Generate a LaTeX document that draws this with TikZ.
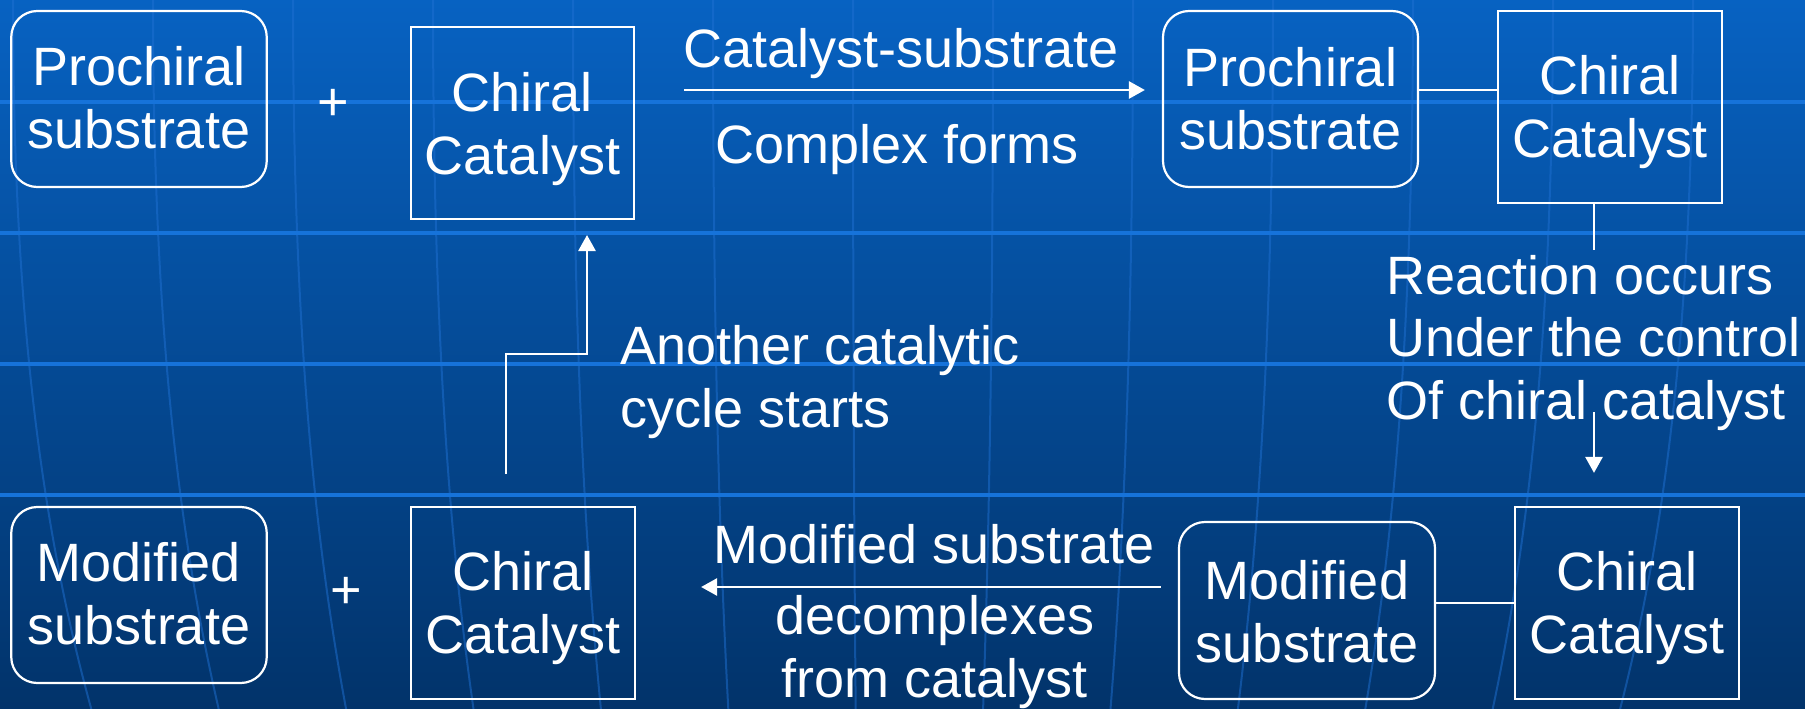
\documentclass[tikz,border=0pt]{standalone}
\usepackage{fontspec}
\setmainfont{Liberation Sans}
\usetikzlibrary{arrows.meta}
\definecolor{bgtop}{HTML}{0762C2}
\definecolor{bgmid}{HTML}{044F9E}
\definecolor{bgbot}{HTML}{02336A}
\definecolor{hline}{HTML}{1673DA}
\definecolor{vline}{HTML}{1F70D2}
\begin{document}
\begin{tikzpicture}[x=1pt,y=-1pt,
  lbl/.style={text=white, font=\fontsize{54}{62.5}\selectfont, inner sep=0pt, align=center},
  sqbox/.style={lbl, draw=white, line width=2.2pt},
  rbox/.style={sqbox, rounded corners=26pt},
  conn/.style={draw=white, line width=2.7pt},
  arr/.style={conn, -{Triangle[length=16pt,width=17pt]}},
  hl/.style={draw=hline, line width=4pt},
  vl/.style={draw=vline, line width=2pt, opacity=0.5}]
\useasboundingbox (0,0) rectangle (1805,709);
% background
\shade[top color=bgtop, middle color=bgmid, bottom color=bgbot] (0,0) rectangle (1805,709);
\foreach \x in {13,153,...,1693} {
  \pgfmathsetmacro\dx{883-\x}
  \draw[vl] (\x,0) .. controls (\x,300) and ({\x+0.03*\dx},520) .. ({\x+0.09*\dx},709);
}
\foreach \y in {102,233,364,495} \draw[hl] (0,\y) -- (1805,\y);
% top row
\node[rbox, minimum width=255.5pt, text height=137pt, text depth=39pt, anchor=base] (ps1) at (139,148) {Prochiral\\substrate};
\node[lbl, anchor=base] (plus1) at (333,121) {+};
\node[sqbox, minimum width=223pt, text height=147pt, text depth=45pt, anchor=base] (cc1) at (522.5,174) {Chiral\\Catalyst};
\node[lbl, anchor=base] (t1) at (901,68) {Catalyst-substrate};
\node[lbl, anchor=base] (t2) at (897.5,163) {Complex forms};
\node[rbox, minimum width=255pt, text height=138pt, text depth=38pt, anchor=base] (ps2) at (1290.5,149) {Prochiral\\substrate};
\node[sqbox, minimum width=224pt, text height=146pt, text depth=46pt, anchor=base] (cc2) at (1610,157) {Chiral\\Catalyst};
% middle
\node[lbl, anchor=base west, align=left] (rx) at (1386,419) {Reaction occurs\\Under the control\\Of chiral catalyst};
\node[lbl, anchor=base west, align=left] (ac) at (620,427) {Another catalytic\\cycle starts};
% bottom row
\node[rbox, minimum width=255.5pt, text height=137pt, text depth=39pt, anchor=base] (ms1) at (139,644) {Modified\\substrate};
\node[lbl, anchor=base] (plus2) at (346,608) {+};
\node[sqbox, minimum width=224pt, text height=146pt, text depth=46pt, anchor=base] (cc3) at (523,653) {Chiral\\Catalyst};
\node[lbl, anchor=base] (t3) at (934,563) {Modified substrate};
\node[lbl, anchor=base] (t4) at (935,697) {decomplexes\\from catalyst};
\node[rbox, minimum width=256pt, text height=140pt, text depth=37pt, anchor=base] (ms2) at (1307,662) {Modified\\substrate};
\node[sqbox, minimum width=224pt, text height=146pt, text depth=46pt, anchor=base] (cc4) at (1627,653) {Chiral\\Catalyst};
% coordinates
\coordinate (ya) at (0,90);
\coordinate (yb) at (0,587);
\coordinate (yc) at (0,603);
\coordinate (r1) at (1594,250);
\coordinate (r2) at (1594,412);
\coordinate (c0) at (506,474);
\coordinate (cm) at (506,354);
\coordinate (c1) at (587,235);
% connectors
\draw[arr, shorten <=49pt, shorten >=17pt] (cc1.east |- ya) -- (ps2.west |- ya);
\draw[conn] (ps2.east |- ya) -- (cc2.west |- ya);
\draw[conn] (cc2.south -| r1) -- (r1);
\draw[arr, shorten >=33pt] (r2) -- (r2 |- cc4.north);
\draw[arr] (c0) -- (cm) -| (c1);
\draw[arr, shorten <=17pt, shorten >=65pt] (ms2.west |- yb) -- (cc3.east |- yb);
\draw[conn] (ms2.east |- yc) -- (cc4.west |- yc);
\end{tikzpicture}
\end{document}
